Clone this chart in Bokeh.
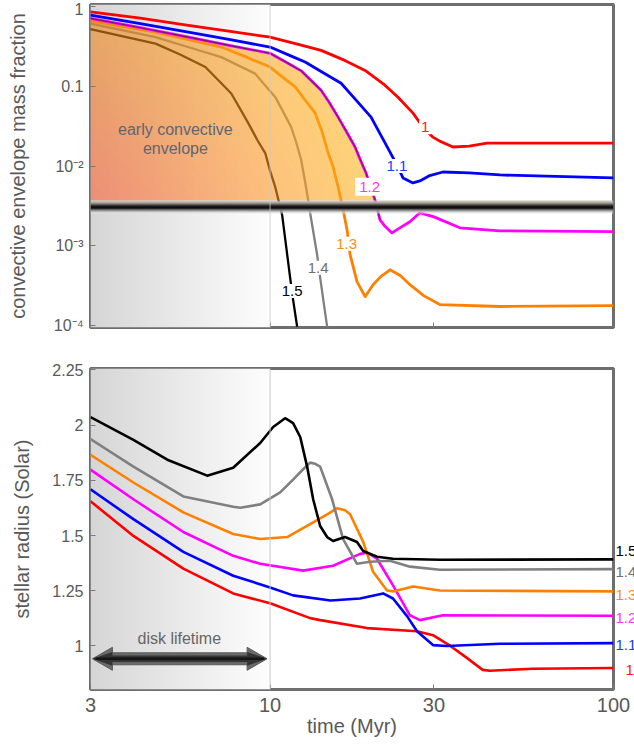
import numpy as np
from bokeh.plotting import figure
from bokeh.layouts import column, row
from bokeh.models import FixedTicker, Label, Span, ColumnDataSource
from bokeh.core.properties import value
from bokeh.embed import file_html
from bokeh.resources import INLINE

FONT = "Liberation Sans"
TXT = "#595959"

masses = ["1", "1.1", "1.2", "1.3", "1.4", "1.5"]
colors = ["#ff0000", "#0000ff", "#ff00ff", "#ff8000", "#808080", "#000000"]

# ---------------- top panel: convective envelope mass fraction vs time (Myr)
env_t_10 = [3, 4.19, 5.78, 7.66, 10, 12.24, 14.08, 16.5, 18.91, 21.6, 23.58, 26.07, 28.0, 29.8, 31.2, 34.1, 38.0, 42.8, 60, 100]
env_f_10 = [0.855, 0.714, 0.579, 0.487, 0.413, 0.331, 0.282, 0.211, 0.158, 0.103, 0.0729, 0.046, 0.030, 0.023, 0.0205, 0.0173, 0.0178, 0.0194, 0.0194, 0.0194]

env_t_11 = [3, 4.19, 5.78, 7.66, 10, 11.44, 12.65, 14.0, 16.1, 17.8, 19.68, 22.35, 23.4, 24.38, 26.07, 27.3, 29.0, 31.85, 38.0, 46.7, 100]
env_f_11 = [0.78, 0.608, 0.477, 0.383, 0.310, 0.242, 0.201, 0.155, 0.109, 0.067, 0.041, 0.01496, 0.0103, 0.00708, 0.00613, 0.0065, 0.0075, 0.00841, 0.00818, 0.00772, 0.00708]

env_t_12 = [3, 4.19, 5.78, 7.66, 10, 11.14, 12.32, 14.08, 14.86, 15.78, 16.66, 17.68, 18.28, 19.03, 20.21, 20.9, 21.5, 22.65, 24.0, 25.54, 27.3, 30.0, 35.7, 46.7, 100]
env_f_12 = [0.71, 0.542, 0.413, 0.323, 0.259, 0.20, 0.156, 0.0891, 0.063, 0.041, 0.0273, 0.0173, 0.0122, 0.00818, 0.00376, 0.00211, 0.0018, 0.00145, 0.0017, 0.002, 0.00259, 0.0023, 0.00168, 0.00154, 0.0015]

env_t_13 = [3, 4.64, 7.21, 8.47, 10, 10.92, 11.83, 12.65, 13.53, 14.18, 14.76, 15.26, 15.78, 16.32, 16.76, 17.1, 17.91, 18.91, 19.95, 21.0, 22.35, 24.0, 25.54, 28.0, 31.2, 46.7, 100]
env_f_13 = [0.66, 0.477, 0.310, 0.235, 0.174, 0.128, 0.098, 0.067, 0.046, 0.0266, 0.01454, 0.00976, 0.00546, 0.00282, 0.00158, 7.72e-4, 3.55e-4, 2.3e-4, 3.25e-4, 4.1e-4, 5.0e-4, 4.2e-4, 3.25e-4, 2.37e-4, 1.83e-4, 1.73e-4, 1.78e-4]

env_t_14 = [3, 4.64, 5.86, 7.21, 9.05, 9.68, 10.35, 10.92, 11.52, 11.91, 12.32, 12.65, 12.91, 13.08, 13.71, 13.99, 14.66]
env_f_14 = [0.61, 0.413, 0.304, 0.232, 0.144, 0.102, 0.0735, 0.0477, 0.0307, 0.02, 0.0119, 0.0063, 0.00376, 0.00259, 7.7e-4, 3.98e-4, 9.7e-5]

env_t_15 = [3, 4.64, 5.47, 6.48, 7.07, 7.71, 8.19, 8.64, 9.18, 9.68, 10.0, 10.35, 10.70, 10.84, 11.43, 11.67, 11.99]
env_f_15 = [0.52, 0.342, 0.250, 0.174, 0.119, 0.0811, 0.0516, 0.0345, 0.0212, 0.01454, 0.0087, 0.00546, 0.00307, 0.00245, 4.1e-4, 2.1e-4, 9.7e-5]

env_t = [env_t_10, env_t_11, env_t_12, env_t_13, env_t_14, env_t_15]
env_f = [env_f_10, env_f_11, env_f_12, env_f_13, env_f_14, env_f_15]

env_ticks = [1e-4, 1e-3, 1e-2, 0.1, 1.0]
env_tick_labels = ["10\u207b\u2074", "10\u207b\u00b3", "10\u207b\u00b2", "0.1", "1"]
band_low, band_high = 0.0025, 0.0037   # boundary of the early convective envelope

# ---------------- bottom panel: stellar radius (Solar) vs time (Myr)
rad_t_10 = [3, 4.0, 5.59, 7.81, 10, 13.08, 14.0, 19.15, 26.78, 29.8, 33.5, 37.4, 41.6, 43.6, 58.2, 100]
rad_r_10 = [1.655, 1.498, 1.350, 1.238, 1.193, 1.126, 1.117, 1.081, 1.067, 1.049, 1.0, 0.946, 0.892, 0.888, 0.897, 0.90]

rad_t_11 = [3, 4.0, 5.59, 7.81, 10, 11.67, 15.0, 18.28, 21.34, 22.8, 25.05, 26.78, 29.8, 32.7, 46.7, 100]
rad_r_11 = [1.709, 1.574, 1.426, 1.318, 1.265, 1.229, 1.206, 1.215, 1.238, 1.215, 1.135, 1.067, 1.004, 1.0, 1.010, 1.013]

rad_t_12 = [3, 4.0, 5.59, 7.81, 9.36, 12.48, 15.26, 18.28, 19.15, 20.48, 22.8, 25.54, 27.3, 31.85, 100]
rad_r_12 = [1.798, 1.664, 1.516, 1.408, 1.372, 1.341, 1.363, 1.417, 1.422, 1.395, 1.274, 1.139, 1.117, 1.139, 1.137]

rad_t_13 = [3, 4.0, 5.59, 7.81, 9.36, 11.21, 13.08, 14.66, 15.66, 16.53, 17.1, 18.67, 19.95, 21.9, 22.8, 26.07, 31.2, 100]
rad_r_13 = [1.865, 1.740, 1.605, 1.507, 1.484, 1.493, 1.552, 1.596, 1.623, 1.614, 1.596, 1.471, 1.336, 1.251, 1.247, 1.269, 1.251, 1.247]

rad_t_14 = [3, 4.0, 5.59, 7.81, 8.19, 9.36, 10.7, 11.67, 12.48, 13.08, 13.5, 13.99, 15.16, 16.32, 17.91, 19.55, 22.35, 25.54, 31.2, 100]
rad_r_14 = [1.937, 1.812, 1.677, 1.630, 1.626, 1.641, 1.695, 1.753, 1.80, 1.830, 1.825, 1.812, 1.664, 1.484, 1.372, 1.381, 1.386, 1.359, 1.345, 1.348]

rad_t_15 = [3, 4.0, 5.02, 6.56, 7.81, 9.36, 10.21, 11.06, 11.67, 12.24, 12.82, 13.35, 13.99, 14.66, 15.26, 16.53, 17.91, 18.67, 20.48, 22.8, 31.2, 100]
rad_r_15 = [2.036, 1.933, 1.843, 1.771, 1.807, 1.919, 1.991, 2.031, 2.009, 1.946, 1.812, 1.664, 1.543, 1.493, 1.475, 1.493, 1.471, 1.430, 1.404, 1.395, 1.390, 1.392]

rad_t = [rad_t_10, rad_t_11, rad_t_12, rad_t_13, rad_t_14, rad_t_15]
rad_r = [rad_r_10, rad_r_11, rad_r_12, rad_r_13, rad_r_14, rad_r_15]

rad_ticks = [1, 1.25, 1.5, 1.75, 2, 2.25]
time_ticks = [3, 10, 30, 100]
t_min, t_max = 3, 100
disk_end = 10  # Myr


def pack(r, g, b, a):
    shape = np.shape(r)
    img = np.zeros(shape, dtype=np.uint32)
    view = img.view(dtype=np.uint8).reshape(shape + (4,))
    view[..., 0] = np.clip(r, 0, 255)
    view[..., 1] = np.clip(g, 0, 255)
    view[..., 2] = np.clip(b, 0, 255)
    view[..., 3] = np.clip(a, 0, 255)
    return img


def grey_bg(n=200):
    s = np.linspace(0, 1, n)[None, :]
    c = 214 + 40 * s
    return pack(c, c, c, np.full_like(c, 255))


FRAME = "#6e6e6e"


def style(p):
    p.grid.visible = False
    p.outline_line_color = FRAME
    p.outline_line_width = 3
    p.background_fill_color = "white"
    p.border_fill_color = "white"
    for ax in p.axis:
        ax.axis_line_color = None
        ax.major_tick_line_color = "#7a7a7a"
        ax.major_tick_line_width = 1
        ax.minor_tick_line_color = None
        ax.major_tick_out = 0
        ax.major_tick_in = 5
        ax.major_label_text_color = TXT
        ax.major_label_text_font = FONT
        ax.axis_label_text_color = TXT
        ax.axis_label_text_font = FONT
        ax.axis_label_text_font_style = "normal"


W = 634
RIGHT = 21
y1_range = (10 ** -4.025, 10 ** 0.025)
p1 = figure(width=W, height=337, x_axis_type="log", y_axis_type="log",
            x_range=(t_min, t_max), y_range=y1_range,
            output_backend="svg", toolbar_location=None,
            min_border_left=90, min_border_right=RIGHT, min_border_top=4, min_border_bottom=10)
style(p1)
p1.xaxis.ticker = FixedTicker(ticks=[10, 30], minor_ticks=[])
p1.xaxis.major_label_text_font_size = "0px"
p1.xaxis.major_label_standoff = 0
p1.yaxis.ticker = FixedTicker(ticks=env_ticks, minor_ticks=[])
p1.yaxis.major_label_overrides = {t: l for t, l in zip(env_ticks, env_tick_labels)}
p1.yaxis.major_label_text_font_size = "16px"
p1.yaxis.major_label_standoff = 7
p1.yaxis.axis_label = "convective envelope mass fraction"
p1.yaxis.axis_label_text_font_size = "20px"
p1.yaxis.axis_label_standoff = 22

# disk-lifetime shading
p1.image_rgba(image=[grey_bg()], x=t_min, y=y1_range[0], dw=disk_end - t_min, dh=y1_range[1] - y1_range[0])

# lines that get covered by the early-envelope shading
for i in (3, 4, 5):
    lw = 2.8 if i == 3 else 2.3
    p1.line(env_t[i], env_f[i], line_color=colors[i], line_width=lw, line_join="round")

# early convective envelope shading (below the 1.2 curve, above the boundary band)
nx, ny = 300, 200
fx0, fx1 = 3.0, 22.0
fy0, fy1 = band_high, y1_range[1]
u = (np.arange(nx) + 0.5) / nx
v = (np.arange(ny) + 0.5) / ny
lt = np.log10(fx0) + u * (np.log10(fx1) - np.log10(fx0))
lf = np.log10(fy0) + v * (np.log10(fy1) - np.log10(fy0))
top = np.interp(lt, np.log10(env_t[2]), np.log10(env_f[2]))
mask = lf[:, None] < top[None, :]
U = u[None, :]
V = v[:, None]
BL = np.array([253, 93, 53]); BR = np.array([252, 185, 25])
TL = np.array([240, 140, 20]); TR = np.array([255, 200, 25])
cols = [(BL[k] * (1 - U) * (1 - V) + BR[k] * U * (1 - V) + TL[k] * (1 - U) * V + TR[k] * U * V) for k in range(3)]
alpha = np.where(mask, 150, 0)
p1.image_rgba(image=[pack(cols[0], cols[1], cols[2], alpha)], x=fx0, y=fy0, dw=fx1 - fx0, dh=fy1 - fy0)

p1.add_layout(Span(location=disk_end, dimension="height", line_color="#c8c8c8", line_width=1, line_alpha=0.8))

# 1.2 curve and its dark edge along the shaded region
p1.line(env_t[2], env_f[2], line_color=colors[2], line_width=2.8, line_join="round")
n_edge = sum(1 for t in env_t[2] if t <= 20.9)
p1.line(env_t[2][:n_edge], env_f[2][:n_edge], line_color="#6b1a6b", line_width=1.1, line_join="round")

# boundary band
band_rows = [(232, 232, 232, 90), (205, 205, 205, 160), (172, 172, 172, 210), (130, 130, 130, 240),
             (88, 88, 88, 255), (45, 45, 45, 255), (20, 20, 22, 255), (12, 12, 14, 255),
             (28, 28, 30, 255), (70, 68, 66, 255), (120, 115, 110, 255), (160, 152, 145, 250),
             (188, 178, 168, 240), (200, 190, 180, 200), (212, 204, 196, 130)]
br = np.array(band_rows, dtype=float)
band_img = pack(br[:, 0:1], br[:, 1:2], br[:, 2:3], br[:, 3:4])
p1.image_rgba(image=[band_img], x=t_min, y=band_low, dw=t_max - t_min, dh=band_high - band_low)

for i in (0, 1):
    p1.line(env_t[i], env_f[i], line_color=colors[i], line_width=2.8, line_join="round")

top_label_pos = [(28.3, 0.0307), (23.4, 0.0100), (19.5, 0.0055), (16.7, 0.00106), (13.8, 5.3e-4), (11.6, 2.7e-4)]
label_colors = ["#ff1a1a", "#1a3cff", "#ff33ff", "#ff8c1a", "#707070", "#000000"]
label_pad = [2, 2, 4, 2, 2, 2]
for (lx, ly), m, c, pd in zip(top_label_pos, masses, label_colors, label_pad):
    p1.add_layout(Label(x=lx, y=ly, text=m, text_color=c, text_font=FONT, text_font_size="15px",
                        text_align="center", text_baseline="middle",
                        background_fill_color="white", background_fill_alpha=1.0, padding=pd))

p1.add_layout(Label(x=5.3, y=0.0285, text="early convective", text_color="#5d6676", text_font=FONT,
                    text_font_size="16px", text_align="center", text_baseline="middle"))
p1.add_layout(Label(x=5.3, y=0.0168, text="envelope", text_color="#5d6676", text_font=FONT,
                    text_font_size="16px", text_align="center", text_baseline="middle"))

# ---------------- bottom figure
y2_range = (0.803, 2.256)
BOT_TOP, BOT_BOTTOM, BOT_H = 31, 56, 408
p2 = figure(width=W, height=BOT_H, x_axis_type="log", x_range=(t_min, t_max), y_range=y2_range,
            output_backend="svg", toolbar_location=None,
            min_border_left=90, min_border_right=RIGHT, min_border_top=BOT_TOP, min_border_bottom=BOT_BOTTOM)
style(p2)
p2.xaxis.ticker = FixedTicker(ticks=time_ticks, minor_ticks=[])
p2.xaxis.major_label_overrides = {t: str(t) for t in time_ticks}
p2.xaxis.major_label_text_font_size = "20px"
p2.xaxis.major_label_standoff = 8
p2.xaxis.axis_label = "time (Myr)"
p2.xaxis.axis_label_text_font_size = "20px"
p2.xaxis.axis_label_standoff = 0
p2.yaxis.ticker = FixedTicker(ticks=rad_ticks, minor_ticks=[])
p2.yaxis.major_label_overrides = {t: ("%g" % t) for t in rad_ticks}
p2.yaxis.major_label_text_font_size = "16px"
p2.yaxis.major_label_standoff = 7
p2.yaxis.axis_label = "stellar radius (Solar)"
p2.yaxis.axis_label_text_font_size = "20px"
p2.yaxis.axis_label_standoff = 16

p2.image_rgba(image=[grey_bg()], x=t_min, y=y2_range[0], dw=disk_end - t_min, dh=y2_range[1] - y2_range[0])
p2.add_layout(Span(location=disk_end, dimension="height", line_color="#c8c8c8", line_width=1))

for i in range(6):
    p2.line(rad_t[i], rad_r[i], line_color=colors[i], line_width=2.6, line_join="round")

# double arrow for the disk lifetime
xl, xr, yc = 3.04, 9.8, 0.942
k = 1.143
hs, hh = 0.027, 0.052
def arrow(hs_, hh_):
    xs = [xl, xl * k, xl * k, xr / k, xr / k, xr, xr / k, xr / k, xl * k, xl * k]
    ys = [yc, yc + hh_, yc + hs_, yc + hs_, yc + hh_, yc, yc - hh_, yc - hs_, yc - hs_, yc - hh_]
    return xs, ys
ax_, ay_ = arrow(hs, hh)
p2.patch(ax_, ay_, fill_color="#6a6a6a", line_color="#5a5a5a", line_width=1)
ax_, ay_ = arrow(hs * 0.55, hh * 0.6)
p2.patch(ax_, ay_, fill_color="#333333", line_color=None)
p2.line([xl * 1.02, xr / 1.02], [yc, yc], line_color="#151515", line_width=2.5)
p2.add_layout(Label(x=5.44, y=1.036, text="disk lifetime", text_color="#666666", text_font=FONT,
                    text_font_size="16px", text_align="center", text_baseline="middle"))

# end-of-track mass labels: a transparent strip laid over the right margin of the radius panel
STRIP = RIGHT - 2
p3 = figure(width=STRIP, height=BOT_H, x_range=(0, 1), y_range=p2.y_range,
            output_backend="svg", toolbar_location=None,
            x_axis_location=None, y_axis_location=None,
            min_border_left=0, min_border_right=0, min_border_top=BOT_TOP, min_border_bottom=BOT_BOTTOM)
p3.grid.visible = False
p3.outline_line_color = None
p3.background_fill_alpha = 0
p3.border_fill_alpha = 0
p3.margin = (0, 0, 0, -STRIP)
right_label_y = [0.892, 1.004, 1.126, 1.233, 1.336, 1.430]
right_label_dx = [10, 0, 0, 0, 0, 0]
lab_src = ColumnDataSource(dict(x=[0] * 6, y=right_label_y, text=masses, color=label_colors, dx=right_label_dx))
p3.text(x="x", y="y", text="text", text_color="color", x_offset="dx", source=lab_src,
        text_font=value(FONT), text_font_size="15px", text_align="left", text_baseline="middle")

layout = column(p1, row(p2, p3))
open("out.html", "w").write(file_html(layout, INLINE))
